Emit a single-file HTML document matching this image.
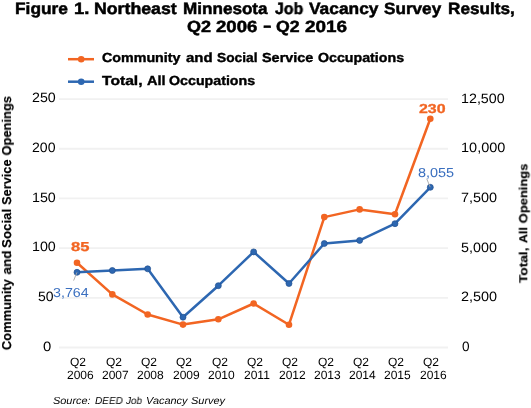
<!DOCTYPE html>
<html><head><meta charset="utf-8"><style>
html,body{margin:0;padding:0;background:#fff;}
body{width:531px;height:408px;position:relative;overflow:hidden;font-family:"Liberation Sans",sans-serif;color:#000;}
.t{position:absolute;white-space:nowrap;line-height:normal;transform-origin:0 0;text-rendering:geometricPrecision;will-change:transform;}
</style></head><body>
<svg width="531" height="408" style="position:absolute;left:0;top:0">
<line x1="59" x2="448" y1="99.07" y2="99.07" stroke="#F1F1F1" stroke-width="1.8"/>
<line x1="59" x2="448" y1="148.76" y2="148.76" stroke="#F1F1F1" stroke-width="1.8"/>
<line x1="59" x2="448" y1="198.44" y2="198.44" stroke="#F1F1F1" stroke-width="1.8"/>
<line x1="59" x2="448" y1="248.13" y2="248.13" stroke="#F1F1F1" stroke-width="1.8"/>
<line x1="59" x2="448" y1="297.81" y2="297.81" stroke="#F1F1F1" stroke-width="1.8"/>
<line x1="59" x2="448" y1="347.50" y2="347.50" stroke="#F1F1F1" stroke-width="1.8"/>
<polyline points="77.00,262.80 112.33,294.40 147.66,314.50 182.99,324.60 218.32,319.30 253.65,303.50 288.98,324.70 324.31,217.10 359.64,209.40 394.97,214.20 430.30,118.80" fill="none" stroke="#F26522" stroke-width="2.5" stroke-linejoin="round"/>
<circle cx="77.00" cy="262.80" r="3.3" fill="#F26522"/>
<circle cx="112.33" cy="294.40" r="3.3" fill="#F26522"/>
<circle cx="147.66" cy="314.50" r="3.3" fill="#F26522"/>
<circle cx="182.99" cy="324.60" r="3.3" fill="#F26522"/>
<circle cx="218.32" cy="319.30" r="3.3" fill="#F26522"/>
<circle cx="253.65" cy="303.50" r="3.3" fill="#F26522"/>
<circle cx="288.98" cy="324.70" r="3.3" fill="#F26522"/>
<circle cx="324.31" cy="217.10" r="3.3" fill="#F26522"/>
<circle cx="359.64" cy="209.40" r="3.3" fill="#F26522"/>
<circle cx="394.97" cy="214.20" r="3.3" fill="#F26522"/>
<circle cx="430.30" cy="118.80" r="3.3" fill="#F26522"/>
<polyline points="77.00,272.30 112.33,270.50 147.66,268.80 182.99,317.20 218.32,285.70 253.65,251.90 288.98,283.50 324.31,243.50 359.64,240.40 394.97,223.70 430.30,187.30" fill="none" stroke="#2D67B1" stroke-width="2.5" stroke-linejoin="round"/>
<circle cx="77.00" cy="272.30" r="3.0" fill="#2D67B1" stroke="#22508F" stroke-width="0.7"/>
<circle cx="112.33" cy="270.50" r="3.0" fill="#2D67B1" stroke="#22508F" stroke-width="0.7"/>
<circle cx="147.66" cy="268.80" r="3.0" fill="#2D67B1" stroke="#22508F" stroke-width="0.7"/>
<circle cx="182.99" cy="317.20" r="3.0" fill="#2D67B1" stroke="#22508F" stroke-width="0.7"/>
<circle cx="218.32" cy="285.70" r="3.0" fill="#2D67B1" stroke="#22508F" stroke-width="0.7"/>
<circle cx="253.65" cy="251.90" r="3.0" fill="#2D67B1" stroke="#22508F" stroke-width="0.7"/>
<circle cx="288.98" cy="283.50" r="3.0" fill="#2D67B1" stroke="#22508F" stroke-width="0.7"/>
<circle cx="324.31" cy="243.50" r="3.0" fill="#2D67B1" stroke="#22508F" stroke-width="0.7"/>
<circle cx="359.64" cy="240.40" r="3.0" fill="#2D67B1" stroke="#22508F" stroke-width="0.7"/>
<circle cx="394.97" cy="223.70" r="3.0" fill="#2D67B1" stroke="#22508F" stroke-width="0.7"/>
<circle cx="430.30" cy="187.30" r="3.0" fill="#2D67B1" stroke="#22508F" stroke-width="0.7"/>
<line x1="68" x2="94" y1="59.2" y2="59.2" stroke="#F26522" stroke-width="2.5"/>
<circle cx="81.2" cy="59.2" r="3.3" fill="#F26522"/>
<line x1="68" x2="94" y1="81.7" y2="81.7" stroke="#2D67B1" stroke-width="2.5"/>
<circle cx="81.2" cy="81.7" r="3.3" fill="#2D67B1"/>
<line x1="73.6" y1="280.6" x2="77.0" y2="272.3" stroke="#A6A6A6" stroke-width="0.9"/>
<line x1="426.7" y1="178.7" x2="430.2" y2="187.1" stroke="#A6A6A6" stroke-width="0.9"/>
</svg>
<div class="t" style="font-size:16.3px;font-weight:bold;-webkit-text-stroke:0.5px #000;left:14.64px;top:-0.40px;transform:scaleX(1.0632);">Figure</div>
<div class="t" style="font-size:16.3px;font-weight:bold;-webkit-text-stroke:0.5px #000;left:73.57px;top:-0.40px;transform:scaleX(1.1304);">1.</div>
<div class="t" style="font-size:16.3px;font-weight:bold;-webkit-text-stroke:0.5px #000;left:94.11px;top:-0.40px;transform:scaleX(1.0876);">Northeast</div>
<div class="t" style="font-size:16.3px;font-weight:bold;-webkit-text-stroke:0.5px #000;left:183.15px;top:-0.40px;transform:scaleX(1.0503);">Minnesota</div>
<div class="t" style="font-size:16.3px;font-weight:bold;-webkit-text-stroke:0.5px #000;left:274.76px;top:-0.40px;transform:scaleX(0.9750);">Job</div>
<div class="t" style="font-size:16.3px;font-weight:bold;-webkit-text-stroke:0.5px #000;left:308.73px;top:-0.40px;transform:scaleX(1.0656);">Vacancy</div>
<div class="t" style="font-size:16.3px;font-weight:bold;-webkit-text-stroke:0.5px #000;left:383.77px;top:-0.40px;transform:scaleX(1.0530);">Survey</div>
<div class="t" style="font-size:16.3px;font-weight:bold;-webkit-text-stroke:0.5px #000;left:447.75px;top:-0.40px;transform:scaleX(1.0531);">Results,</div>
<div class="t" style="font-size:16.3px;font-weight:bold;-webkit-text-stroke:0.5px #000;left:186.67px;top:17.60px;transform:scaleX(1.1062);">Q2</div>
<div class="t" style="font-size:16.3px;font-weight:bold;-webkit-text-stroke:0.5px #000;left:216.33px;top:17.60px;transform:scaleX(1.1404);">2006</div>
<div class="t" style="font-size:16.3px;font-weight:bold;-webkit-text-stroke:0.5px #000;left:262.84px;top:16.80px;transform:scaleX(1.5500);">-</div>
<div class="t" style="font-size:16.3px;font-weight:bold;-webkit-text-stroke:0.5px #000;left:275.59px;top:17.60px;transform:scaleX(1.0864);">Q2</div>
<div class="t" style="font-size:16.3px;font-weight:bold;-webkit-text-stroke:0.5px #000;left:304.62px;top:17.60px;transform:scaleX(1.1603);">2016</div>
<div class="t" style="font-size:13.1px;font-weight:bold;-webkit-text-stroke:0.4px #000;left:102.46px;top:50.20px;transform:scaleX(1.0895);">Community</div>
<div class="t" style="font-size:13.1px;font-weight:bold;-webkit-text-stroke:0.4px #000;left:186.03px;top:50.20px;transform:scaleX(1.1402);">and</div>
<div class="t" style="font-size:13.1px;font-weight:bold;-webkit-text-stroke:0.4px #000;left:217.08px;top:50.20px;transform:scaleX(1.0497);">Social</div>
<div class="t" style="font-size:13.1px;font-weight:bold;-webkit-text-stroke:0.4px #000;left:262.35px;top:50.20px;transform:scaleX(1.1016);">Service</div>
<div class="t" style="font-size:13.1px;font-weight:bold;-webkit-text-stroke:0.4px #000;left:318.46px;top:50.20px;transform:scaleX(1.0850);">Occupations</div>
<div class="t" style="font-size:13.1px;font-weight:bold;-webkit-text-stroke:0.4px #000;left:102.10px;top:72.90px;transform:scaleX(1.1939);">Total,</div>
<div class="t" style="font-size:13.1px;font-weight:bold;-webkit-text-stroke:0.4px #000;left:146.62px;top:72.90px;transform:scaleX(1.1097);">All</div>
<div class="t" style="font-size:13.1px;font-weight:bold;-webkit-text-stroke:0.4px #000;left:169.46px;top:72.90px;transform:scaleX(1.0863);">Occupations</div>
<div class="t" style="font-size:13.6px;left:32.12px;top:90.30px;transform:scaleX(1.0465);">250</div>
<div class="t" style="font-size:13.6px;left:32.12px;top:139.90px;transform:scaleX(1.0372);">200</div>
<div class="t" style="font-size:13.6px;left:31.85px;top:189.80px;transform:scaleX(1.0494);">150</div>
<div class="t" style="font-size:13.6px;left:31.85px;top:239.20px;transform:scaleX(1.0494);">100</div>
<div class="t" style="font-size:13.6px;left:38.29px;top:289.10px;transform:scaleX(1.0286);">50</div>
<div class="t" style="font-size:13.6px;left:43.45px;top:338.70px;transform:scaleX(1.0923);">0</div>
<div class="t" style="font-size:10.2px;font-style:italic;left:53.43px;top:396.10px;transform:scaleX(1.0725);">Source:</div>
<div class="t" style="font-size:10.2px;font-style:italic;left:94.95px;top:396.10px;transform:scaleX(0.9802);">DEED</div>
<div class="t" style="font-size:10.2px;font-style:italic;left:126.40px;top:396.10px;transform:scaleX(0.9723);">Job</div>
<div class="t" style="font-size:10.2px;font-style:italic;left:145.63px;top:396.10px;transform:scaleX(1.0737);">Vacancy</div>
<div class="t" style="font-size:10.2px;font-style:italic;left:190.63px;top:396.10px;transform:scaleX(1.0740);">Survey</div>
<div class="t" style="font-size:13.0px;font-weight:bold;-webkit-text-stroke:0.3px #F26522;color:#F26522;left:71.16px;top:239.10px;transform:scaleX(1.2741);">85</div>
<div class="t" style="font-size:13.0px;font-weight:bold;-webkit-text-stroke:0.3px #F26522;color:#F26522;left:419.29px;top:100.90px;transform:scaleX(1.2244);">230</div>
<div class="t" style="font-size:13.0px;color:#3A6FBF;left:53.45px;top:285.30px;transform:scaleX(1.0961);">3,764</div>
<div class="t" style="font-size:13.0px;color:#3A6FBF;left:417.74px;top:164.50px;transform:scaleX(1.1111);">8,055</div>
<div class="t" style="font-size:13.6px;left:460.95px;top:90.60px;transform:scaleX(1.0500);">12,500</div>
<div class="t" style="font-size:13.6px;left:460.93px;top:140.24px;transform:scaleX(1.0675);">10,000</div>
<div class="t" style="font-size:13.6px;left:461.20px;top:189.88px;transform:scaleX(1.0626);">7,500</div>
<div class="t" style="font-size:13.6px;left:461.47px;top:239.52px;transform:scaleX(1.0545);">5,000</div>
<div class="t" style="font-size:13.6px;left:461.20px;top:289.16px;transform:scaleX(1.0626);">2,500</div>
<div class="t" style="font-size:13.6px;left:461.51px;top:338.80px;transform:scaleX(0.9846);">0</div>
<div class="t" style="font-size:12.0px;left:70.40px;top:354.60px;">Q2</div>
<div class="t" style="font-size:12.0px;left:66.62px;top:367.50px;">2006</div>
<div class="t" style="font-size:12.0px;left:105.70px;top:354.60px;">Q2</div>
<div class="t" style="font-size:12.0px;left:102.05px;top:367.50px;">2007</div>
<div class="t" style="font-size:12.0px;left:141.00px;top:354.60px;">Q2</div>
<div class="t" style="font-size:12.0px;left:137.22px;top:367.50px;">2008</div>
<div class="t" style="font-size:12.0px;left:176.30px;top:354.60px;">Q2</div>
<div class="t" style="font-size:12.0px;left:172.65px;top:367.50px;">2009</div>
<div class="t" style="font-size:12.0px;left:211.60px;top:354.60px;">Q2</div>
<div class="t" style="font-size:12.0px;left:207.82px;top:367.50px;">2010</div>
<div class="t" style="font-size:12.0px;left:246.90px;top:354.60px;">Q2</div>
<div class="t" style="font-size:12.0px;left:243.62px;top:367.50px;">2011</div>
<div class="t" style="font-size:12.0px;left:282.20px;top:354.60px;">Q2</div>
<div class="t" style="font-size:12.0px;left:278.55px;top:367.50px;">2012</div>
<div class="t" style="font-size:12.0px;left:317.50px;top:354.60px;">Q2</div>
<div class="t" style="font-size:12.0px;left:313.72px;top:367.50px;">2013</div>
<div class="t" style="font-size:12.0px;left:352.80px;top:354.60px;">Q2</div>
<div class="t" style="font-size:12.0px;left:349.02px;top:367.50px;">2014</div>
<div class="t" style="font-size:12.0px;left:388.10px;top:354.60px;">Q2</div>
<div class="t" style="font-size:12.0px;left:384.32px;top:367.50px;">2015</div>
<div class="t" style="font-size:12.0px;left:423.40px;top:354.60px;">Q2</div>
<div class="t" style="font-size:12.0px;left:419.62px;top:367.50px;">2016</div>
<div class="t" style="font-size:12.8px;font-weight:bold;-webkit-text-stroke:0.15px #000;left:0;top:0;transform:translate(-1.00px,350.10px) rotate(-90deg) scaleX(1.0079);">Community</div>
<div class="t" style="font-size:12.8px;font-weight:bold;-webkit-text-stroke:0.15px #000;left:0;top:0;transform:translate(-1.00px,274.43px) rotate(-90deg) scaleX(1.0512);">and</div>
<div class="t" style="font-size:12.8px;font-weight:bold;-webkit-text-stroke:0.15px #000;left:0;top:0;transform:translate(-1.00px,247.92px) rotate(-90deg) scaleX(1.0372);">Social</div>
<div class="t" style="font-size:12.8px;font-weight:bold;-webkit-text-stroke:0.15px #000;left:0;top:0;transform:translate(-1.00px,204.90px) rotate(-90deg) scaleX(0.9978);">Service</div>
<div class="t" style="font-size:12.8px;font-weight:bold;-webkit-text-stroke:0.15px #000;left:0;top:0;transform:translate(-1.00px,155.50px) rotate(-90deg) scaleX(1.0069);">Openings</div>
<div class="t" style="font-size:11.7px;font-weight:bold;-webkit-text-stroke:0.15px #000;left:0;top:0;transform:translate(517.30px,283.09px) rotate(-90deg) scaleX(1.1726);">Total,</div>
<div class="t" style="font-size:11.7px;font-weight:bold;-webkit-text-stroke:0.15px #000;left:0;top:0;transform:translate(517.30px,243.07px) rotate(-90deg) scaleX(1.0714);">All</div>
<div class="t" style="font-size:11.7px;font-weight:bold;-webkit-text-stroke:0.15px #000;left:0;top:0;transform:translate(517.30px,223.25px) rotate(-90deg) scaleX(1.1038);">Openings</div>
</body></html>
